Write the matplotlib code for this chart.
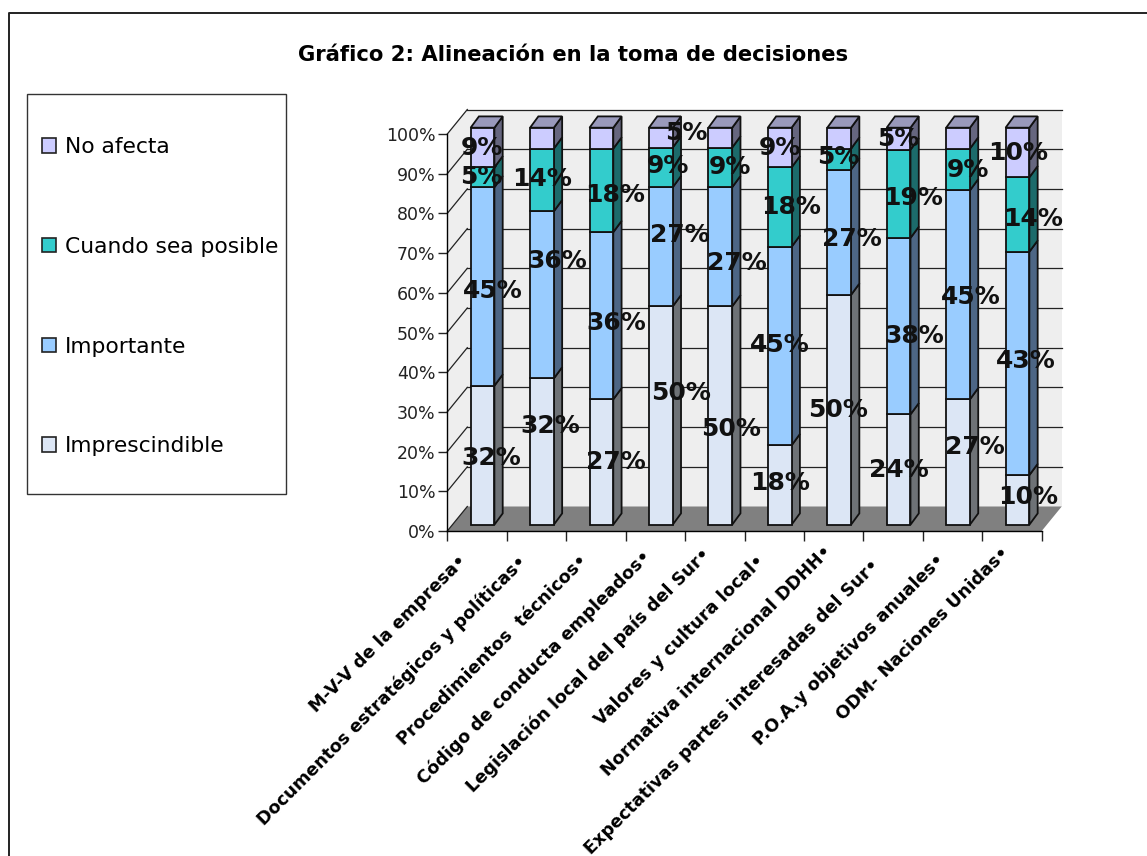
"""Stacked 3D-look column chart: Alineación en la toma de decisiones."""

import matplotlib
matplotlib.use('Agg')
from matplotlib import pyplot as plt
from matplotlib.patches import Patch, Polygon, Rectangle
from matplotlib.ticker import FuncFormatter
from matplotlib.transforms import Affine2D, ScaledTranslation
import numpy as np

plt.rcParams['font.family'] = ['DejaVu Sans']

title = 'Gráfico 2: Alineación en la toma de decisiones'

categories = ['M-V-V de la empresa•', 'Documentos estratégicos y políticas•',
              'Procedimientos  técnicos•', 'Código de conducta empleados•',
              'Legislación local del país del Sur•', 'Valores y cultura local•',
              'Normativa internacional DDHH•', 'Expectativas partes interesadas del Sur•',
              'P.O.A.y objetivos anuales•', 'ODM- Naciones Unidas•']

series_names = ['Imprescindible', 'Importante', 'Cuando sea posible', 'No afecta']

imprescindible = [31.82, 31.82, 27.27, 50.0, 50.0, 18.18, 50.0, 23.81, 27.27, 9.52]
importante = [45.45, 36.36, 36.36, 27.27, 27.27, 45.45, 27.27, 38.10, 45.45, 42.86]
cuando_posible = [4.55, 13.64, 18.18, 9.09, 9.09, 18.18, 4.55, 19.05, 9.09, 14.29]
no_afecta = [9.09, 4.55, 4.55, 4.55, 4.55, 9.09, 4.55, 4.76, 4.55, 9.52]

# front, side colours of each series
face_colors = ['#DCE6F5', '#99CCFF', '#33CCCC', '#CCCCFF']
side_colors = ['#6E7276', '#4D6685', '#1C6B6B', '#66667F']
top_color = '#9999BB'

# the data labels were dragged by hand in the original: pixel shift from the
# middle of each segment (x, y up), None where the label is not shown
label_shift = [
    [(9, -3), (10, -4), (-1, 0), (-1, 0)],
    [(8, 26), (15, 34), (0, 1), None],
    [(14, 0), (15, -7), (14, -5), None],
    [(20, 23), (19, 12), (7, 1), (25, 5)],
    [(11, -13), (17, -16), (10, 0), None],
    [(0, 2), (0, 1), (11, 0), (0, 0)],
    [(-1, 0), (13, -7), (-1, 2), None],
    [(0, 0), (16, -10), (14, -4), (0, 0)],
    [(17, 15), (13, -2), (10, 0), None],
    [(11, 3), (8, 2), (16, -4), (1, 0)],
]

# pixel shift of the end of each rotated category label
tick_shift = [(-12.5, 0), (-12.5, 0), (-10.5, 1), (-7.5, 5), (-7.5, 7),
              (-12.5, 0), (-4, 10), (-16.5, -4), (-10.5, 1), (-5.5, 8)]

WIDTH, HEIGHT = 1147, 856
WALL_DX, WALL_DY = 20, 24.5
BAR_DX, BAR_DY = 5.5, 6.3
DEPTH_DX, DEPTH_DY = 8.3, 11.3
BAR_WIDTH = 0.40
EDGE = 1.3
N = len(categories)


def shifted(axes, dx, dy):
    """Data coordinates moved by a number of pixels, for the oblique look"""
    return axes.transData + Affine2D().translate(dx, dy)


def draw_walls(axes):
    """Back wall, side wall, floor and their grid lines"""
    back = shifted(axes, WALL_DX, WALL_DY)
    axes.add_patch(Polygon([(0, 0), (N, 0), (N, 100), (0, 100)], transform=back,
                           facecolor='#EEEEEE', edgecolor='none', clip_on=False, zorder=1))
    # side wall is made of one sheared strip, from axis to back wall
    left = axes.transData.transform([(0, 0), (0, 100)])
    side = np.array([left[0], left[1], left[1] + (WALL_DX, WALL_DY), left[0] + (WALL_DX, WALL_DY)])
    axes.add_patch(Polygon(side, transform=None, facecolor='#EEEEEE', edgecolor='none',
                           clip_on=False, zorder=1))
    front = axes.transData.transform([(0, 0), (N, 0)])
    floor = np.array([front[0], front[1], front[1] + (WALL_DX, WALL_DY), front[0] + (WALL_DX, WALL_DY)])
    axes.add_patch(Polygon(floor, transform=None, facecolor='#808080', edgecolor='none',
                           clip_on=False, zorder=2))
    for level in np.arange(10, 101, 10):
        axes.plot([0, N], [level, level], transform=back, color='#222222', lw=0.9,
                  clip_on=False, zorder=1.5)
    for level in np.arange(0, 101, 10):
        start = axes.transData.transform((0, level))
        axes.plot([start[0], start[0] + WALL_DX], [start[1], start[1] + WALL_DY],
                  transform=None, color='#222222', lw=0.9, clip_on=False, zorder=3)


def draw_bars(axes, stacks):
    """Front, side and top faces of every stacked column"""
    front = shifted(axes, BAR_DX, BAR_DY)
    back_offset = np.array([DEPTH_DX, DEPTH_DY])
    totals = stacks.sum(axis=0)
    shares = stacks / totals * 100
    bottoms = np.vstack([np.zeros(N), np.cumsum(shares, axis=0)[:-1]])
    xpos = np.arange(N) + 0.5
    for row in range(len(stacks)):
        axes.bar(xpos, shares[row], BAR_WIDTH, bottom=bottoms[row], color=face_colors[row],
                 edgecolor='#111111', linewidth=EDGE, transform=front, clip_on=False, zorder=5)
        for col in range(N):
            corners = front.transform([(xpos[col] + BAR_WIDTH / 2, bottoms[row][col]),
                                       (xpos[col] + BAR_WIDTH / 2, bottoms[row][col] + shares[row][col])])
            poly = [corners[0], corners[1], corners[1] + back_offset, corners[0] + back_offset]
            axes.add_patch(Polygon(poly, transform=None, facecolor=side_colors[row],
                                   edgecolor='#111111', linewidth=EDGE, clip_on=False, zorder=4.5))
    for col in range(N):
        corners = front.transform([(xpos[col] - BAR_WIDTH / 2, 100), (xpos[col] + BAR_WIDTH / 2, 100)])
        poly = [corners[0], corners[1], corners[1] + back_offset, corners[0] + back_offset]
        axes.add_patch(Polygon(poly, transform=None, facecolor=top_color,
                               edgecolor='#111111', linewidth=EDGE, clip_on=False, zorder=4.5))
    # labels go over everything
    for col in range(N):
        for row in range(len(stacks)):
            if label_shift[col][row] is None:
                continue
            middle = bottoms[row][col] + shares[row][col] / 2
            axes.annotate(f'{stacks[row][col]:.0f}%', xy=(xpos[col], middle), xycoords=front,
                          xytext=label_shift[col][row], textcoords='offset pixels',
                          ha='center', va='center', fontsize=18, fontweight='bold',
                          color='#111111', zorder=8, annotation_clip=False)


def main():
    """Builds the figure and saves it"""
    fig = plt.figure(figsize=(WIDTH / 100, HEIGHT / 100), dpi=100)
    axes = fig.add_axes([447.3 / WIDTH, 1 - 531 / HEIGHT, 594.4 / WIDTH, 397 / HEIGHT])
    axes.set_xlim(0, N)
    axes.set_ylim(0, 100)
    axes.patch.set_visible(False)
    for name in ('top', 'right'):
        axes.spines[name].set_visible(False)
    for name in ('left', 'bottom'):
        axes.spines[name].set_linewidth(1.0)
        axes.spines[name].set_zorder(6)

    stacks = np.array([imprescindible, importante, cuando_posible, no_afecta])
    draw_walls(axes)
    draw_bars(axes, stacks)

    axes.set_yticks(np.arange(0, 101, 10))
    axes.yaxis.set_major_formatter(FuncFormatter(lambda value, _: f'{value:.0f}%'))
    axes.tick_params(axis='y', labelsize=12.5, length=6.5, width=1.0, pad=2, colors='#222222')
    axes.set_xticks(np.arange(N + 1))
    axes.set_xticklabels([])
    axes.tick_params(axis='x', which='major', length=7, width=1.0, color='#222222')
    axes.set_xticks(np.arange(N) + 0.5, minor=True)
    axes.set_xticklabels(categories, minor=True, rotation=45, ha='right', va='center',
                         rotation_mode='anchor', fontsize=12.7, fontweight='bold')
    axes.tick_params(axis='x', which='minor', length=0, pad=19.8)
    for label, (dx, dy) in zip(axes.get_xticklabels(minor=True), tick_shift):
        label.set_transform(label.get_transform()
                            + ScaledTranslation(dx / 100, dy / 100, fig.dpi_scale_trans))

    fig.text(573 / WIDTH, 1 - 55 / HEIGHT, title, ha='center', va='center',
             fontsize=15.2, fontweight='bold')

    handles = [Patch(facecolor=face_colors[i], edgecolor='#222222', linewidth=1.2)
               for i in range(3, -1, -1)]
    fig.add_artist(Rectangle((27 / WIDTH, 1 - 494 / HEIGHT), 259 / WIDTH, 400 / HEIGHT,
                             transform=fig.transFigure, facecolor='white',
                             edgecolor='#333333', linewidth=1.0))
    legend = fig.legend(handles, series_names[::-1], loc='upper left', frameon=False,
                        bbox_to_anchor=(42 / WIDTH, 1 - 137 / HEIGHT), borderaxespad=0,
                        fontsize=15.7, handlelength=0.65, handleheight=0.65, handletextpad=0.42,
                        labelspacing=3.66, borderpad=0)
    legend.set_zorder(10)

    # outer frame runs off the right and bottom of the picture
    fig.add_artist(plt.Line2D([9 / WIDTH, 9 / WIDTH, 1], [0, 1 - 13 / HEIGHT, 1 - 13 / HEIGHT],
                              color='#222222', lw=1.4))
    fig.savefig('out.png', dpi=100, facecolor='white')


if __name__ == '__main__':
    main()
